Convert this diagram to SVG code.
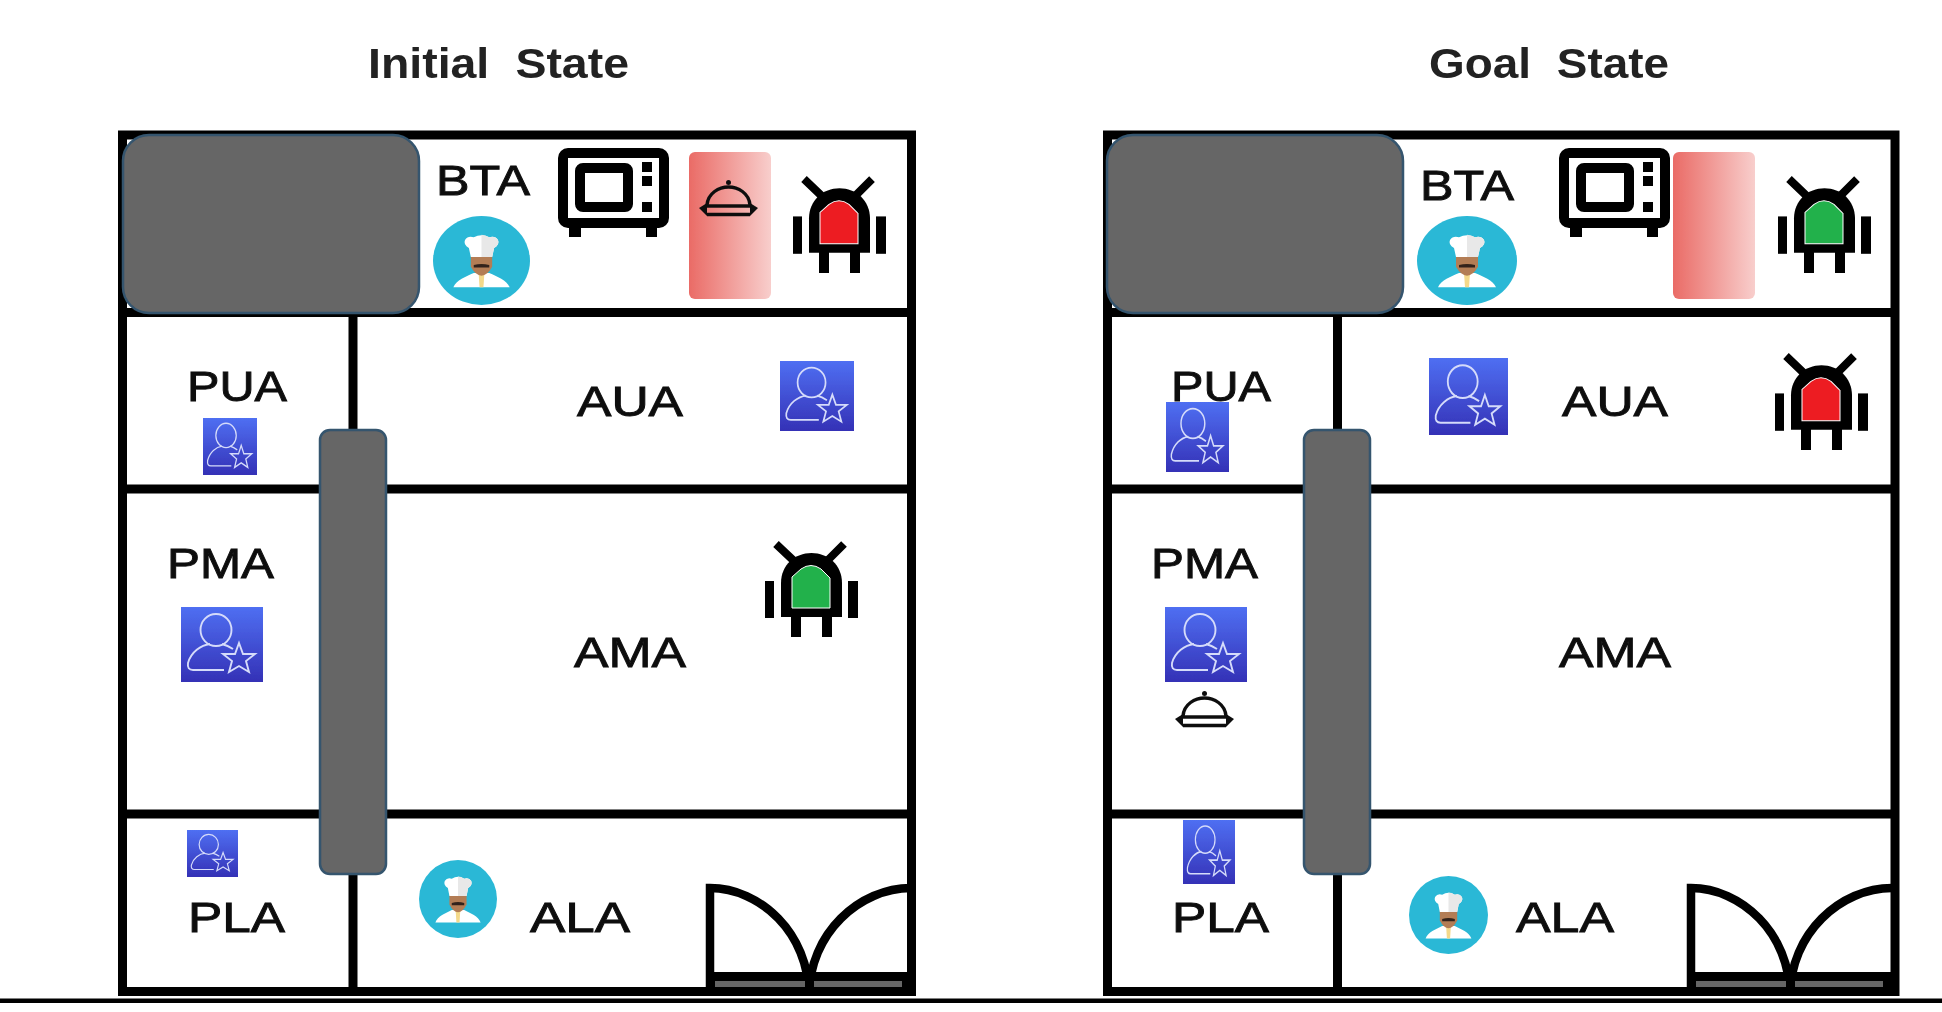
<svg xmlns="http://www.w3.org/2000/svg" width="1942" height="1012" viewBox="0 0 1942 1012">
<style>
text{font-family:"Liberation Sans",Arial,sans-serif;fill:#0c0c0c}
.lbl{font-size:43px;stroke:#0c0c0c;stroke-width:0.9px}
.ttl{font-size:42px;font-weight:bold;fill:#222;word-spacing:12px}
.wall{fill:none;stroke:#000;stroke-width:9}
.block{fill:#666;stroke:#34546e;stroke-width:2.5}
.red{fill:#ed1c24}
.green{fill:#22b14c}
.shelf{fill:url(#shelfGrad)}
</style>
<defs>
<filter id="soft" x="-2%" y="-2%" width="104%" height="104%"><feGaussianBlur stdDeviation="0.7"/></filter>
<linearGradient id="shelfGrad" x1="0" x2="1" y1="0" y2="0"><stop offset="0" stop-color="#ea6b66"/><stop offset="1" stop-color="#f8cecc"/></linearGradient>
<linearGradient id="userGrad" x1="0" x2="0" y1="0" y2="1"><stop offset="0" stop-color="#4f6ff2"/><stop offset="1" stop-color="#3431b6"/></linearGradient>
<symbol id="robot" viewBox="0 0 93 96" preserveAspectRatio="none">
<g fill="#000" stroke="none">
<rect x="0" y="40" width="9" height="37"/><rect x="83" y="40" width="10" height="37"/>
<rect x="26" y="72" width="10" height="24"/><rect x="57" y="72" width="10" height="24"/>
<path d="M16 76V42C16 24 30 12 46.500 12C63 12 77 24 77 42V76Z"/>
</g>
<path d="M11 3L29 20M79 3L62 20" stroke="#000" stroke-width="8" fill="none"/>
<path d="M27 67V36L36 28Q46 21 56 28L65 37V67Z" stroke="#fff" stroke-width="1"/>
</symbol>
<symbol id="user" viewBox="0 0 82 75" preserveAspectRatio="none">
<rect width="82" height="75" fill="url(#userGrad)"/>
<g fill="none" stroke="#d5dbfa" stroke-width="1.900">
<ellipse cx="35" cy="23" rx="15.500" ry="16"/>
<path d="M43 63H12Q6 63 7 56C10 45 20 38 29 37M41 37C45 38 49 40 52 42"/>
<path d="M58 36L62 47L74 47L65 54L68 65L58 59L48 65L51 54L42 47L54 47Z"/>
</g>
</symbol>
<symbol id="chef" viewBox="0 0 100 100" preserveAspectRatio="none">
<ellipse cx="50" cy="50" rx="50" ry="50" fill="#2bb8d6"/>
<path d="M21 80C24 72 34 68 42 64H58C66 68 76 72 79 80Z" fill="#fff"/>
<path d="M47 64H53L52 80H48Z" fill="#f4d98a"/>
<path d="M39 45H61V57Q56 67 50 67Q44 67 39 57Z" fill="#b37d55"/>
<path d="M42 55Q50 53 58 55V58H42Z" fill="#33241a"/>
<path d="M39 46L37 36Q31 32 33 27Q36 22 42 24Q50 19 58 24Q64 22 67 27Q69 32 63 36L61 46Z" fill="#fff"/>
<path d="M50 21Q54 21 58 24Q64 22 67 27Q69 32 63 36L61 46H50Z" fill="#e8e8e8"/>
</symbol>
<symbol id="microwave" viewBox="0 0 111 89" preserveAspectRatio="none">
<path d="M11 72H23V89H11ZM88 72H99V89H88Z" fill="#000"/>
<rect x="5" y="5" width="101" height="70" rx="5" fill="#fff" stroke="#000" stroke-width="10"/>
<rect x="22" y="20" width="48" height="39" rx="3" fill="#fff" stroke="#000" stroke-width="10"/>
<rect x="84" y="14" width="10" height="10" fill="#000"/><rect x="84" y="28" width="10" height="10" fill="#000"/><rect x="84" y="54" width="10" height="10" fill="#000"/>
</symbol>
<symbol id="cloche" viewBox="0 0 59 37" preserveAspectRatio="none">
<g fill="none" stroke="#111" stroke-width="3.400">
<path d="M8 25C9 13 20 7 29.500 7C39 7 50 13 51 25"/>
<path d="M6 26H53"/>
<path d="M8 34.500H51"/>
</g>
<path d="M0 28L8 23V36ZM59 28L51 23V36Z" fill="#111"/>
<circle cx="29.500" cy="2.500" r="2.500" fill="#111"/>
</symbol>
<g id="doorShape">
<path d="M0 113V5C50 5 99 50 99 113M201 5C150 5 99 50 99 113" fill="none" stroke="#000" stroke-width="8.500"/>
<path d="M-4 89H201V113H-4Z" fill="#000"/>
<rect x="5" y="98" width="90" height="6" fill="#666"/><rect x="104" y="98" width="88" height="6" fill="#666"/>
</g>
</defs>
<rect width="1942" height="1012" fill="#fff"/>
<g filter="url(#soft)">
<g id="initial-state">
<text class="ttl" x="368" y="78" textLength="261" lengthAdjust="spacingAndGlyphs">Initial State</text>
<g id="initial-walls">
<rect class="wall" x="122.500" y="135" width="789" height="856.500"/>
<path class="wall" d="M122 312.500H912M122 489H912M122 814H912M353 312V992"/>
</g>
<g id="initial-door"><use href="#doorShape" x="710" y="883"/></g>
<g id="initial-blocks">
<rect class="block" x="123" y="135" width="296" height="178" rx="26"/>
<rect class="block" x="320" y="430" width="66" height="444" rx="10"/>
</g>
<g id="initial-BTA">
<text class="lbl" x="436" y="195" textLength="94" lengthAdjust="spacingAndGlyphs">BTA</text>
<use href="#chef" x="433" y="216" width="97" height="89"/>
<use href="#microwave" x="558" y="148" width="111" height="89"/>
<rect class="shelf" x="689" y="152" width="82" height="147" rx="6"/>
<use href="#cloche" x="699" y="180" width="59" height="37"/>
<use href="#robot" class="red" x="793" y="176" width="93" height="97"/>
</g>
<g id="initial-PUA">
<text class="lbl" x="187" y="401" textLength="100" lengthAdjust="spacingAndGlyphs">PUA</text>
<use href="#user" x="203" y="418" width="54" height="57"/>
</g>
<g id="initial-AUA">
<text class="lbl" x="577" y="416" textLength="106" lengthAdjust="spacingAndGlyphs">AUA</text>
<use href="#user" x="780" y="361" width="74" height="70"/>
</g>
<g id="initial-PMA">
<text class="lbl" x="167" y="578" textLength="107" lengthAdjust="spacingAndGlyphs">PMA</text>
<use href="#user" x="181" y="607" width="82" height="75"/>
</g>
<g id="initial-AMA">
<text class="lbl" x="574" y="667" textLength="112" lengthAdjust="spacingAndGlyphs">AMA</text>
<use href="#robot" class="green" x="765" y="541" width="93" height="96"/>
</g>
<g id="initial-PLA">
<use href="#user" x="187" y="830" width="51" height="47"/>
<text class="lbl" x="188" y="932" textLength="97" lengthAdjust="spacingAndGlyphs">PLA</text>
</g>
<g id="initial-ALA">
<use href="#chef" x="419" y="860" width="78" height="78"/>
<text class="lbl" x="530" y="932" textLength="100" lengthAdjust="spacingAndGlyphs">ALA</text>
</g>
</g>
<g id="goal-state">
<text class="ttl" x="1429" y="78" textLength="240" lengthAdjust="spacingAndGlyphs">Goal State</text>
<g id="goal-walls">
<rect class="wall" x="1107.500" y="135" width="787.500" height="856.500"/>
<path class="wall" d="M1107 312.500H1895M1107 489H1895M1107 814H1895M1337.500 312V992"/>
</g>
<g id="goal-door"><use href="#doorShape" x="1691" y="883"/></g>
<g id="goal-blocks">
<rect class="block" x="1107" y="135" width="296" height="178" rx="26"/>
<rect class="block" x="1304" y="430" width="66" height="444" rx="10"/>
</g>
<g id="goal-BTA">
<text class="lbl" x="1420" y="200" textLength="94" lengthAdjust="spacingAndGlyphs">BTA</text>
<use href="#chef" x="1417" y="216" width="100" height="89"/>
<rect class="shelf" x="1673" y="152" width="82" height="147" rx="6"/>
<use href="#microwave" x="1559" y="148" width="111" height="89"/>
<use href="#robot" class="green" x="1778" y="176" width="93" height="97"/>
</g>
<g id="goal-PUA">
<text class="lbl" x="1171" y="401" textLength="100" lengthAdjust="spacingAndGlyphs">PUA</text>
<use href="#user" x="1166" y="402" width="63" height="70"/>
</g>
<g id="goal-AUA">
<use href="#user" x="1429" y="358" width="79" height="77"/>
<text class="lbl" x="1562" y="416" textLength="106" lengthAdjust="spacingAndGlyphs">AUA</text>
<use href="#robot" class="red" x="1775" y="353" width="93" height="97"/>
</g>
<g id="goal-PMA">
<text class="lbl" x="1151" y="578" textLength="107" lengthAdjust="spacingAndGlyphs">PMA</text>
<use href="#user" x="1165" y="607" width="82" height="75"/>
<use href="#cloche" x="1175" y="691" width="59" height="37"/>
</g>
<g id="goal-AMA">
<text class="lbl" x="1559" y="667" textLength="112" lengthAdjust="spacingAndGlyphs">AMA</text>
</g>
<g id="goal-PLA">
<use href="#user" x="1183" y="820" width="52" height="64"/>
<text class="lbl" x="1172" y="932" textLength="97" lengthAdjust="spacingAndGlyphs">PLA</text>
</g>
<g id="goal-ALA">
<use href="#chef" x="1409" y="876" width="79" height="78"/>
<text class="lbl" x="1516" y="932" textLength="98" lengthAdjust="spacingAndGlyphs">ALA</text>
</g>
</g>
</g>
<rect id="bottom-rule" x="0" y="998.500" width="1942" height="4.500" fill="#000"/>
</svg>
